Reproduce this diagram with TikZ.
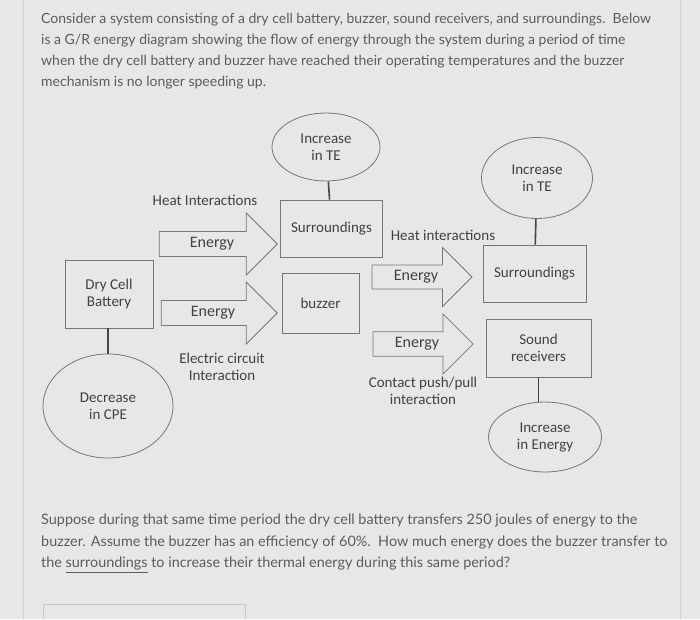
\documentclass[tikz,border=0pt]{standalone}
\usepackage{fontspec}
\setmainfont{Lato}
\newfontfamily\diagfont{Carlito}
\usetikzlibrary{shapes.geometric, shapes.arrows, positioning}
\definecolor{paper}{RGB}{231,231,229}
\definecolor{ink}{RGB}{92,92,92}
\definecolor{edge}{RGB}{118,118,118}

\begin{document}
\begin{tikzpicture}[x=1pt, y=-1pt,
    every node/.style={font=\diagfont\fontsize{15}{17}\selectfont, text=ink!70!black},
    para/.style={font=\normalfont\fontsize{14}{21}\selectfont, align=left, inner sep=0pt, text=ink},
    box/.style={draw=edge, line width=0.8pt, rectangle},
    bubble/.style={draw=edge, line width=0.8pt, ellipse, align=center, inner sep=0pt},
    flow/.style={draw=edge, line width=0.8pt, single arrow, single arrow head extend=15pt,
        minimum width=62pt, font=\diagfont\fontsize{16}{18}\selectfont},
    link/.style={line width=1.6pt, draw=ink!75!black}]
    \fill[paper] (0,0) rectangle (700,619);
    \useasboundingbox (0,0) rectangle (700,619);
    \draw[black!18, line width=0.8pt] (23,0) -- (23,619);
    \draw[black!18, line width=0.8pt] (680,0) -- (680,619);

    \node[para, anchor=north west] (intro) at (41,13) {Consider a system consisting of a dry cell battery, buzzer, sound receivers, and surroundings.\ \ Below\\
        is a G/R energy diagram showing the flow of energy through the system during a period of time\\
        when the dry cell battery and buzzer have reached their operating temperatures and the buzzer\\
        mechanism is no longer speeding up.};

    \node[bubble, minimum width=108pt, minimum height=68pt] (te1) at (326,147) {Increase\\in TE};
    \node[box, minimum width=102pt, minimum height=57pt] (surr1) at (331.5,228.5) {Surroundings};
    \node[box, minimum width=77pt, minimum height=60pt] (buzz) at (320.5,303) {buzzer};
    \node[box, minimum width=88pt, minimum height=68pt, align=center] (batt) at (109,294) {Dry Cell\\Battery};
    \node[bubble, minimum width=130pt, minimum height=104pt] (cpe) at (108,406) {Decrease\\in CPE};
    \node[bubble, minimum width=111pt, minimum height=81pt] (te2) at (537,178) {Increase\\in TE};
    \node[box, minimum width=103pt, minimum height=57pt] (surr2) at (534.5,273.5) {Surroundings};
    \node[box, minimum width=105pt, minimum height=58pt, align=center] (sound) at (538.5,348) {Sound\\receivers};
    \node[bubble, minimum width=113pt, minimum height=70pt] (gain) at (545,437) {Increase\\in Energy};

    \node[flow, minimum height=118pt] (heat1) at (212,244) {Energy};
    \node[flow, minimum height=116pt] (elec) at (213,313) {Energy};
    \node[flow, minimum height=100pt, minimum width=59pt] (heat2) at (416,277) {Energy};
    \node[flow, minimum height=100pt, minimum width=60pt] (push) at (417,344) {Energy};

    \node (heatlab1) at (205,200) {Heat Interactions};
    \node (heatlab2) at (443,235) {Heat interactions};
    \node[align=center] (eleclab) at (222,367) {Electric circuit\\Interaction};
    \node[align=center] (pushlab) at (423,391) {Contact push/pull\\interaction};

    \draw[link] (te1) -- (surr1);
    \draw[link] (te2) -- (surr2);
    \draw[link] (batt.south -| cpe.north) -- (cpe.north);
    \draw[link] (sound.south) -- (sound.south |- gain.north);

    \node[para, anchor=north west, font=\normalfont\fontsize{14.4}{21.5}\selectfont] (question) at (41,514) {Suppose during that same time period the dry cell battery transfers 250 joules of energy to the\\
        buzzer. Assume the buzzer has an efficiency of 60\%.\ \ How much energy does the buzzer transfer to\\
        the \underline{surroundings} to increase their thermal energy during this same period?};

    \draw[black!22, line width=0.8pt] (43,619) |- (245,604) -- (245,619);
\end{tikzpicture}
\end{document}
